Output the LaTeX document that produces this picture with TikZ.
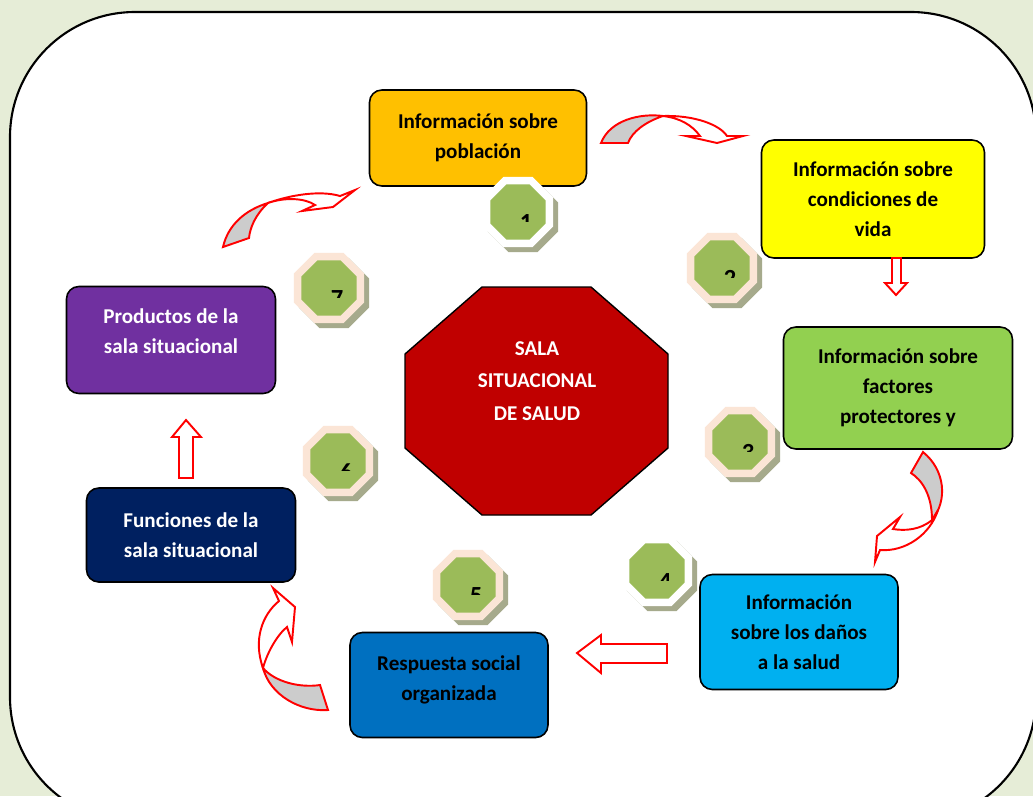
\documentclass[tikz,border=0pt]{standalone}
\usepackage{fontspec}
\setmainfont{Carlito}
\usetikzlibrary{shapes.geometric}

\definecolor{fondo}{RGB}{230,237,215}
\definecolor{naranja}{HTML}{FFC000}
\definecolor{amarillo}{HTML}{FFFF00}
\definecolor{verde}{HTML}{92D050}
\definecolor{celeste}{HTML}{00B0F0}
\definecolor{azul}{HTML}{0070C0}
\definecolor{marino}{HTML}{002060}
\definecolor{morado}{HTML}{7030A0}
\definecolor{rojo}{HTML}{C00000}
\definecolor{oliva}{HTML}{9BBB59}
\definecolor{durazno}{RGB}{251,229,214}
\definecolor{sombra}{RGB}{166,170,140}

\begin{document}
\begin{tikzpicture}[x=0.02cm, y=-0.02cm,
    caja/.style={draw=black, line width=0.9pt, rounded corners=7pt, align=center,
                 font=\bfseries\fontsize{12}{17}\selectfont, inner sep=2pt},
    sombreado/.style={regular polygon, regular polygon sides=8, minimum size=1.52cm,
                      inner sep=0pt, fill=sombra},
    marco/.style={regular polygon, regular polygon sides=8, minimum size=1.52cm,
                  inner sep=0pt},
    insignia/.style={regular polygon, regular polygon sides=8, minimum size=1.2cm,
                     inner sep=0pt, fill=oliva},
    cifra/.style={font=\bfseries\fontsize{14}{14}\selectfont, inner sep=0pt, anchor=north},
    dorso/.style={draw=red, line width=1.1pt, line join=miter, fill=gray!40},
    frente/.style={draw=red, line width=1.1pt, line join=miter, fill=white},
    bloque/.style={draw=red, line width=1.1pt, line join=miter, fill=white}]

    % Fondo y marco
    \useasboundingbox (0,0) rectangle (1033,796);
    \clip (0,0) rectangle (1033,796);
    \fill [fondo] (0,0) rectangle (1033,796);
    \draw [fill=white, line width=1.2pt, rounded corners=2.5cm] (10,12) rectangle (1036,822);

    % Octagono central
    \draw [fill=rojo, line width=0.8pt] (482,287) -- (591,287) -- (668,354) -- (668,448)
        -- (591,515) -- (482,515) -- (405,448) -- (405,354) -- cycle;
    \node [align=center, text=white, font=\bfseries\fontsize{12}{18.5}\selectfont]
        (sala) at (537,381) {SALA\\SITUACIONAL\\DE SALUD};

    % Cajas
    \node [caja, fill=naranja, minimum width=4.34cm, minimum height=1.92cm]
        (poblacion)   at (478,138) {Información sobre\\población};
    \node [caja, fill=amarillo, minimum width=4.46cm, minimum height=2.36cm]
        (condiciones) at (873,199) {Información sobre\\condiciones de\\vida};
    \node [caja, fill=verde, minimum width=4.58cm, minimum height=2.44cm]
        (factores)    at (898,388) {Información sobre\\factores\\protectores y};
    \node [caja, fill=celeste, minimum width=3.96cm, minimum height=2.30cm]
        (danos)       at (799,632) {Información\\sobre los daños\\a la salud};
    \node [caja, fill=azul, minimum width=3.96cm, minimum height=2.10cm, text depth=8pt]
        (respuesta)   at (449,685) {Respuesta social\\organizada};
    \node [caja, fill=marino, text=white, minimum width=4.18cm, minimum height=1.88cm]
        (funciones)   at (191,535) {Funciones de la\\sala situacional};
    \node [caja, fill=morado, text=white, minimum width=4.18cm, minimum height=2.14cm, text depth=10pt]
        (productos)   at (171,340) {Productos de la\\sala situacional};

    % Insignias numeradas
    \foreach \num/\px/\py/\borde in {1/518/212/white, 2/722/268/durazno, 3/740/442/durazno,
                                     4/657/571/white, 5/468/585/durazno, 6/338/461/durazno,
                                     7/329/288/durazno} {
        \node [sombreado] (s\num) at (\px+5,\py+5) {};
        \node [marco, fill=\borde] (m\num) at (\px,\py) {};
        \node [insignia] (b\num) at (m\num) {};
        \begin{scope}
            \clip (\px-20,\py-5) rectangle (\px+30,\py+9);
            \node [cifra] (n\num) at (\px+8,\py+2) {\num};
        \end{scope}
    }

    % Flechas curvas
    \draw [dorso] (601,143) .. controls (610,120) and (640,113) .. (663,116)
        .. controls (645,122) and (632,132) .. (628,143) -- cycle;
    \draw [frente] (663,116) .. controls (695,115) and (720,125) .. (727,136) -- (743,136)
        -- (717,143) -- (686,136) -- (700,136) .. controls (692,125) and (680,118) .. cycle;

    \draw [dorso] (923,452) .. controls (945,470) and (948,500) .. (932,520)
        .. controls (932,495) and (922,480) .. (911,473) -- cycle;
    \draw [frente] (932,520) .. controls (920,530) and (905,531) .. (893,529) -- (900,517)
        -- (877,536) -- (875,562) -- (880,550) .. controls (905,552) and (930,535) .. (938,510) -- cycle;

    \draw [dorso] (328,710) .. controls (300,712) and (270,695) .. (263,668)
        .. controls (275,682) and (300,688) .. (320,685) -- cycle;
    \draw [frente] (263,668) .. controls (267,653) and (277,635) .. (287,627) -- (292,642)
        -- (295,607) -- (273,588) -- (279,601) .. controls (262,615) and (253,640) .. cycle;

    \draw [dorso] (223,247) .. controls (228,225) and (245,210) .. (268,203)
        .. controls (255,215) and (250,228) .. (249,238) -- cycle;
    \draw [frente] (268,203) .. controls (290,195) and (320,190) .. (340,196) -- (355,190)
        -- (333,207) -- (302,211) -- (315,205) .. controls (305,198) and (285,197) .. cycle;

    % Flechas rectas
    \draw [bloque] (892,258) -- (901,258) -- (901,283) -- (907,283) -- (896,295)
        -- (885,283) -- (892,283) -- cycle;
    \draw [bloque] (667,644) -- (601,644) -- (601,635) -- (577,653) -- (601,673)
        -- (601,663) -- (667,663) -- cycle;
    \draw [bloque] (179,478) -- (179,437) -- (172,437) -- (186,420) -- (201,437)
        -- (193,437) -- (193,478) -- cycle;

\end{tikzpicture}
\end{document}
